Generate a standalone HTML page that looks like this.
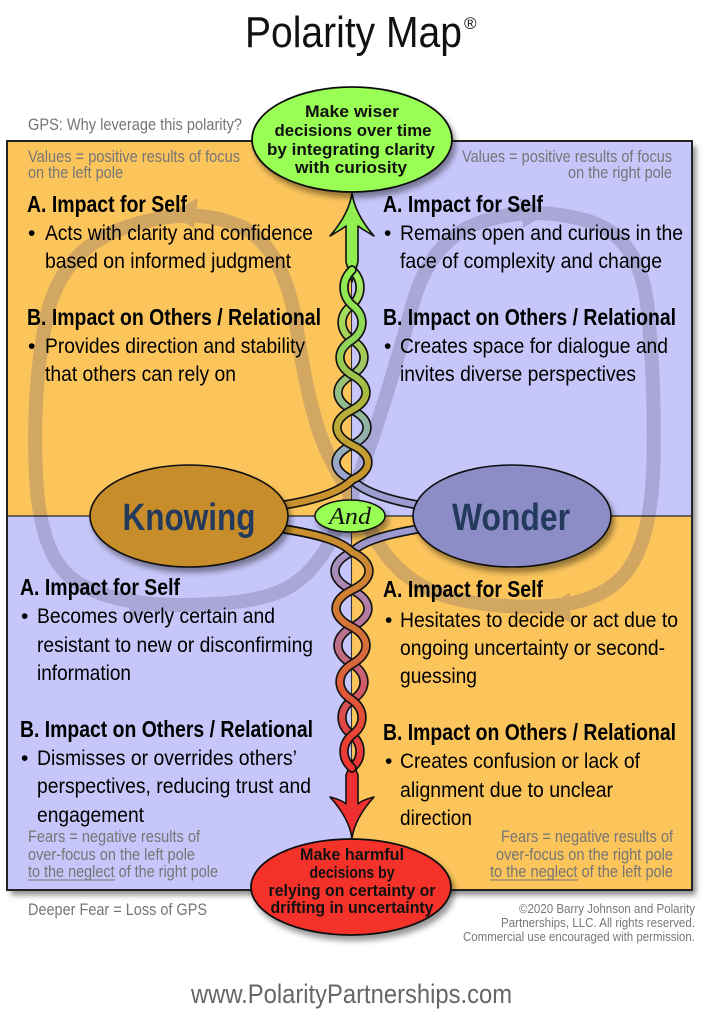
<!DOCTYPE html>
<html>
<head>
<meta charset="utf-8">
<style>
html,body{margin:0;padding:0;background:#fff;}
svg{display:block;}
.t{font-family:"Liberation Sans",Arial,sans-serif;font-size:21px;fill:#000;}
.h{font-family:"Liberation Sans",Arial,sans-serif;font-size:23px;font-weight:bold;fill:#000;}
.g{font-family:"Liberation Sans",Arial,sans-serif;font-size:16.5px;fill:#757575;}
.e{font-family:"Liberation Sans",Arial,sans-serif;font-size:16.5px;font-weight:bold;fill:#111;}
.c{font-family:"Liberation Sans",Arial,sans-serif;font-size:12.5px;fill:#777;}
.p{font-family:"Liberation Sans",Arial,sans-serif;font-size:38px;font-weight:bold;fill:#243a5c;}
</style>
</head>
<body>
<svg width="705" height="1024" viewBox="0 0 705 1024" xmlns="http://www.w3.org/2000/svg">
<defs>
  <filter id="sh" x="-5%" y="-5%" width="115%" height="115%">
    <feDropShadow dx="4" dy="5" stdDeviation="3" flood-color="#000" flood-opacity="0.45"/>
  </filter>
  <filter id="esh" x="-20%" y="-20%" width="150%" height="160%">
    <feDropShadow dx="3" dy="5" stdDeviation="3" flood-color="#000" flood-opacity="0.4"/>
  </filter>
  <linearGradient id="gUG" gradientUnits="userSpaceOnUse" x1="0" y1="270" x2="0" y2="500">
    <stop offset="0" stop-color="#92ee52"/>
    <stop offset="0.35" stop-color="#8fd25a"/>
    <stop offset="0.6" stop-color="#b3b23a"/>
    <stop offset="0.85" stop-color="#c9972f"/>
    <stop offset="1" stop-color="#c9922e"/>
  </linearGradient>
  <linearGradient id="gUV" gradientUnits="userSpaceOnUse" x1="0" y1="270" x2="0" y2="500">
    <stop offset="0" stop-color="#a2f062"/>
    <stop offset="0.35" stop-color="#a6cc55"/>
    <stop offset="0.6" stop-color="#8fba94"/>
    <stop offset="0.85" stop-color="#98a6c6"/>
    <stop offset="1" stop-color="#9c9cd2"/>
  </linearGradient>
  <linearGradient id="gLG" gradientUnits="userSpaceOnUse" x1="0" y1="530" x2="0" y2="770">
    <stop offset="0" stop-color="#c8912f"/>
    <stop offset="0.3" stop-color="#d27c33"/>
    <stop offset="0.55" stop-color="#d8683c"/>
    <stop offset="0.8" stop-color="#e64b35"/>
    <stop offset="1" stop-color="#ee3333"/>
  </linearGradient>
  <linearGradient id="gLV" gradientUnits="userSpaceOnUse" x1="0" y1="530" x2="0" y2="770">
    <stop offset="0" stop-color="#9c9cd2"/>
    <stop offset="0.3" stop-color="#b080a8"/>
    <stop offset="0.55" stop-color="#c4687c"/>
    <stop offset="0.8" stop-color="#df4a45"/>
    <stop offset="1" stop-color="#ee3333"/>
  </linearGradient>
</defs>

<!-- Title -->
<text x="245" y="47" font-family="'Liberation Sans',Arial,sans-serif" font-size="44" fill="#111" textLength="217" lengthAdjust="spacingAndGlyphs">Polarity Map</text>
<text x="464" y="29" font-family="'Liberation Sans',Arial,sans-serif" font-size="17" fill="#111">®</text>

<text class="g" x="28" y="130" textLength="214" lengthAdjust="spacingAndGlyphs">GPS: Why leverage this polarity?</text>

<!-- Frame shadow -->
<rect x="7" y="141" width="685" height="749" fill="#fff" filter="url(#sh)"/>
<!-- Quadrants -->
<rect x="7" y="141" width="344.5" height="375" fill="#fcc55c"/>
<rect x="351.5" y="141" width="340.5" height="375" fill="#c6c6fa"/>
<rect x="7" y="516" width="344.5" height="374" fill="#c6c6fa"/>
<rect x="351.5" y="516" width="340.5" height="374" fill="#fcc55c"/>

<!-- Infinity loop -->
<g opacity="0.26">
  <path d="M331,540 Q352,500 373.5,435 Q395,370 412.5,305 Q430,240 480,222.5 Q530,205 585,220 Q640,235 647.5,307.5 Q655,380 653.5,460 Q652,540 626,572.5 Q600,605 540,606.5 Q480,608 440,594 Q400,580 376,540 Q352,500 331,460 Q310,420 297.5,332.5 Q285,245 237.5,225 Q190,205 125,227.5 Q60,250 46,320 Q32,390 36,475 Q40,560 77.5,582.5 Q115,605 180,605 Q245,605 277.5,592.5 Q310,580 331,540 Z" fill="none" stroke="#5a5070" stroke-width="14" stroke-linejoin="round"/>
  <polygon points="168,214 198,198 194,228" fill="#5a5070"/>
  <polygon points="548,213 520,198 523,228" fill="#5a5070"/>
  <polygon points="158,606 130,591 129,621" fill="#5a5070"/>
  <polygon points="542,608 570,593 571,623" fill="#5a5070"/>
</g>

<!-- Divider lines -->
<line x1="7" y1="516" x2="692" y2="516" stroke="#222" stroke-width="1.3"/>
<line x1="351.5" y1="141" x2="351.5" y2="890" stroke="#333" stroke-width="1.1"/>

<!-- Upper-left -->
<text class="g" x="28" y="162" textLength="212" lengthAdjust="spacingAndGlyphs">Values = positive results of focus</text>
<text class="g" x="28" y="178" textLength="95" lengthAdjust="spacingAndGlyphs">on the left pole</text>
<text class="h" x="27" y="212" textLength="160" lengthAdjust="spacingAndGlyphs">A. Impact for Self</text>
<text class="t" x="28" y="240">•</text>
<text class="t" x="45" y="240" textLength="268" lengthAdjust="spacingAndGlyphs">Acts with clarity and confidence</text>
<text class="t" x="45" y="268" textLength="246" lengthAdjust="spacingAndGlyphs">based on informed judgment</text>
<text class="h" x="27" y="325" textLength="294" lengthAdjust="spacingAndGlyphs">B. Impact on Others / Relational</text>
<text class="t" x="28" y="353">•</text>
<text class="t" x="45" y="353" textLength="260" lengthAdjust="spacingAndGlyphs">Provides direction and stability</text>
<text class="t" x="45" y="381" textLength="191" lengthAdjust="spacingAndGlyphs">that others can rely on</text>

<!-- Upper-right -->
<text class="g" x="672" y="162" text-anchor="end" textLength="210" lengthAdjust="spacingAndGlyphs">Values = positive results of focus</text>
<text class="g" x="672" y="178" text-anchor="end" textLength="104" lengthAdjust="spacingAndGlyphs">on the right pole</text>
<text class="h" x="383" y="212" textLength="160" lengthAdjust="spacingAndGlyphs">A. Impact for Self</text>
<text class="t" x="384" y="240">•</text>
<text class="t" x="400" y="240" textLength="283" lengthAdjust="spacingAndGlyphs">Remains open and curious in the</text>
<text class="t" x="400" y="268" textLength="262" lengthAdjust="spacingAndGlyphs">face of complexity and change</text>
<text class="h" x="383" y="325" textLength="293" lengthAdjust="spacingAndGlyphs">B. Impact on Others / Relational</text>
<text class="t" x="384" y="353">•</text>
<text class="t" x="400" y="353" textLength="268" lengthAdjust="spacingAndGlyphs">Creates space for dialogue and</text>
<text class="t" x="400" y="381" textLength="236" lengthAdjust="spacingAndGlyphs">invites diverse perspectives</text>

<!-- Lower-left -->
<text class="h" x="20" y="595" textLength="160" lengthAdjust="spacingAndGlyphs">A. Impact for Self</text>
<text class="t" x="21" y="623">•</text>
<text class="t" x="37" y="623" textLength="238" lengthAdjust="spacingAndGlyphs">Becomes overly certain and</text>
<text class="t" x="37" y="652" textLength="276" lengthAdjust="spacingAndGlyphs">resistant to new or disconfirming</text>
<text class="t" x="37" y="680" textLength="94" lengthAdjust="spacingAndGlyphs">information</text>
<text class="h" x="20" y="737" textLength="293" lengthAdjust="spacingAndGlyphs">B. Impact on Others / Relational</text>
<text class="t" x="21" y="765">•</text>
<text class="t" x="37" y="765" textLength="260" lengthAdjust="spacingAndGlyphs">Dismisses or overrides others’</text>
<text class="t" x="37" y="793" textLength="274" lengthAdjust="spacingAndGlyphs">perspectives, reducing trust and</text>
<text class="t" x="37" y="822" textLength="107" lengthAdjust="spacingAndGlyphs">engagement</text>
<text class="g" x="28" y="842" textLength="172" lengthAdjust="spacingAndGlyphs">Fears = negative results of</text>
<text class="g" x="28" y="860" textLength="167" lengthAdjust="spacingAndGlyphs">over-focus on the left pole</text>
<text class="g" x="28" y="877" textLength="190" lengthAdjust="spacingAndGlyphs">to the neglect of the right pole</text>
<line x1="28" y1="880" x2="115" y2="880" stroke="#757575" stroke-width="1"/>

<!-- Lower-right -->
<text class="h" x="383" y="597" textLength="160" lengthAdjust="spacingAndGlyphs">A. Impact for Self</text>
<text class="t" x="385" y="627">•</text>
<text class="t" x="400" y="627" textLength="278" lengthAdjust="spacingAndGlyphs">Hesitates to decide or act due to</text>
<text class="t" x="400" y="655" textLength="265" lengthAdjust="spacingAndGlyphs">ongoing uncertainty or second-</text>
<text class="t" x="400" y="683" textLength="77" lengthAdjust="spacingAndGlyphs">guessing</text>
<text class="h" x="383" y="740" textLength="293" lengthAdjust="spacingAndGlyphs">B. Impact on Others / Relational</text>
<text class="t" x="385" y="768">•</text>
<text class="t" x="400" y="768" textLength="240" lengthAdjust="spacingAndGlyphs">Creates confusion or lack of</text>
<text class="t" x="400" y="797" textLength="213" lengthAdjust="spacingAndGlyphs">alignment due to unclear</text>
<text class="t" x="400" y="825" textLength="72" lengthAdjust="spacingAndGlyphs">direction</text>
<text class="g" x="673" y="842" text-anchor="end" textLength="172" lengthAdjust="spacingAndGlyphs">Fears = negative results of</text>
<text class="g" x="673" y="860" text-anchor="end" textLength="177" lengthAdjust="spacingAndGlyphs">over-focus on the right pole</text>
<text class="g" x="673" y="877" text-anchor="end" textLength="183" lengthAdjust="spacingAndGlyphs">to the neglect of the left pole</text>
<line x1="490" y1="880" x2="578" y2="880" stroke="#757575" stroke-width="1"/>

<!-- Frame outline -->
<rect x="7" y="141" width="685" height="749" fill="none" stroke="#222" stroke-width="2"/>

<!-- Upper arrow (green) -->
<path d="M352,193 Q349,214 330,236 Q342,229 346,226 L346,262 L352,282 L358,262 L358,226 Q362,229 374,236 Q355,214 352,193 Z" fill="#90ee50" stroke="#111" stroke-width="1.6" stroke-linejoin="round"/>

<!-- Upper helix -->
<g fill="none" stroke-linecap="round">
  <path d="M352,270 C362.7,280 362.7,295 352,305 C338.7,315 338.7,330 352,340 C368,350 368,365 352,375 C333.3,385 333.3,400 352,410 C372,420 372,435 352,445 C330.7,455 330.7,470 352,480 C364,492 389,500 418,505" stroke="#111" stroke-width="9.5"/>
  <path d="M352,270 C362.7,280 362.7,295 352,305 C338.7,315 338.7,330 352,340 C368,350 368,365 352,375 C333.3,385 333.3,400 352,410 C372,420 372,435 352,445 C330.7,455 330.7,470 352,480 C364,492 389,500 418,505" stroke="url(#gUV)" stroke-width="6.2"/>
  <path d="M352,270 C341.3,280 341.3,295 352,305 C365.3,315 365.3,330 352,340 C336,350 336,365 352,375 C370.7,385 370.7,400 352,410 C332,420 332,435 352,445 C373.3,455 373.3,470 352,480 C340,492 315,500 284,505" stroke="#111" stroke-width="9.5"/>
  <path d="M352,270 C341.3,280 341.3,295 352,305 C365.3,315 365.3,330 352,340 C336,350 336,365 352,375 C370.7,385 370.7,400 352,410 C332,420 332,435 352,445 C373.3,455 373.3,470 352,480 C340,492 315,500 284,505" stroke="url(#gUG)" stroke-width="6.2"/>
</g>

<!-- Lower arrow (red) -->
<path d="M346,775 L346,804 Q342,800 330,797 Q349,818 352,838 Q355,818 374,797 Q362,800 358,804 L358,775 L352,760 Z" fill="#ee3030" stroke="#111" stroke-width="1.6" stroke-linejoin="round"/>

<!-- Lower helix -->
<g fill="none" stroke-linecap="round">
  <path d="M418,529 C389,534 364,540 352,552 C329.3,562.6 329.3,579.4 352,590 C373.3,600.4 373.3,616.6 352,627 C333.3,637.4 333.3,653.6 352,664 C368,674 368,690 352,700 C338.7,709.8 338.7,725.2 352,735 C362.7,744.2 362.7,758.8 352,768" stroke="#111" stroke-width="9.5"/>
  <path d="M418,529 C389,534 364,540 352,552 C329.3,562.6 329.3,579.4 352,590 C373.3,600.4 373.3,616.6 352,627 C333.3,637.4 333.3,653.6 352,664 C368,674 368,690 352,700 C338.7,709.8 338.7,725.2 352,735 C362.7,744.2 362.7,758.8 352,768" stroke="url(#gLV)" stroke-width="6.2"/>
  <path d="M284,529 C315,534 340,540 352,552 C374.7,562.6 374.7,579.4 352,590 C330.7,600.4 330.7,616.6 352,627 C370.7,637.4 370.7,653.6 352,664 C336,674 336,690 352,700 C365.3,709.8 365.3,725.2 352,735 C341.3,744.2 341.3,758.8 352,768" stroke="#111" stroke-width="9.5"/>
  <path d="M284,529 C315,534 340,540 352,552 C374.7,562.6 374.7,579.4 352,590 C330.7,600.4 330.7,616.6 352,627 C370.7,637.4 370.7,653.6 352,664 C336,674 336,690 352,700 C365.3,709.8 365.3,725.2 352,735 C341.3,744.2 341.3,758.8 352,768" stroke="url(#gLG)" stroke-width="6.2"/>
</g>

<!-- Pole ellipses -->
<ellipse cx="189" cy="516" rx="99" ry="51" fill="#c68d2a" stroke="#111" stroke-width="1.6" filter="url(#esh)"/>
<text class="p" x="189" y="530" text-anchor="middle" textLength="133" lengthAdjust="spacingAndGlyphs">Knowing</text>
<ellipse cx="512" cy="516" rx="99" ry="51" fill="#8c8cc6" stroke="#111" stroke-width="1.6" filter="url(#esh)"/>
<text class="p" x="511" y="530" text-anchor="middle" textLength="118" lengthAdjust="spacingAndGlyphs">Wonder</text>
<ellipse cx="350" cy="516" rx="35" ry="16" fill="#99ff55" stroke="#111" stroke-width="1.5" filter="url(#esh)"/>
<text x="350" y="524" text-anchor="middle" font-family="'Liberation Serif','Times New Roman',serif" font-style="italic" font-size="24" fill="#111" textLength="42" lengthAdjust="spacingAndGlyphs">And</text>

<!-- Green top ellipse -->
<ellipse cx="352" cy="139.5" rx="100" ry="52.5" fill="#99ff55" stroke="#111" stroke-width="1.8" filter="url(#esh)"/>
<text class="e" x="352" y="117" text-anchor="middle" textLength="94" lengthAdjust="spacingAndGlyphs">Make wiser</text>
<text class="e" x="353" y="136" text-anchor="middle" textLength="157" lengthAdjust="spacingAndGlyphs">decisions over time</text>
<text class="e" x="351" y="155" text-anchor="middle" textLength="168" lengthAdjust="spacingAndGlyphs">by integrating clarity</text>
<text class="e" x="351" y="173" text-anchor="middle" textLength="112" lengthAdjust="spacingAndGlyphs">with curiosity</text>

<!-- Red bottom ellipse -->
<ellipse cx="351" cy="887" rx="100" ry="48" fill="#f5302a" stroke="#111" stroke-width="1.8" filter="url(#esh)"/>
<text class="e" x="352" y="860" text-anchor="middle" textLength="104" lengthAdjust="spacingAndGlyphs">Make harmful</text>
<text class="e" x="352" y="878" text-anchor="middle" textLength="85" lengthAdjust="spacingAndGlyphs">decisions by</text>
<text class="e" x="352" y="896" text-anchor="middle" textLength="167" lengthAdjust="spacingAndGlyphs">relying on certainty or</text>
<text class="e" x="352" y="913" text-anchor="middle" textLength="163" lengthAdjust="spacingAndGlyphs">drifting in uncertainty</text>

<!-- Bottom texts -->
<text class="g" x="28" y="915" textLength="179" lengthAdjust="spacingAndGlyphs">Deeper Fear = Loss of GPS</text>
<text class="c" x="695" y="913" text-anchor="end" textLength="176" lengthAdjust="spacingAndGlyphs">©2020 Barry Johnson and Polarity</text>
<text class="c" x="695" y="927" text-anchor="end" textLength="194" lengthAdjust="spacingAndGlyphs">Partnerships, LLC. All rights reserved.</text>
<text class="c" x="695" y="941" text-anchor="end" textLength="232" lengthAdjust="spacingAndGlyphs">Commercial use encouraged with permission.</text>

<text x="191" y="1003" font-family="'Liberation Sans',Arial,sans-serif" font-size="27" fill="#666" textLength="321" lengthAdjust="spacingAndGlyphs">www.PolarityPartnerships.com</text>
</svg>
</body>
</html>
